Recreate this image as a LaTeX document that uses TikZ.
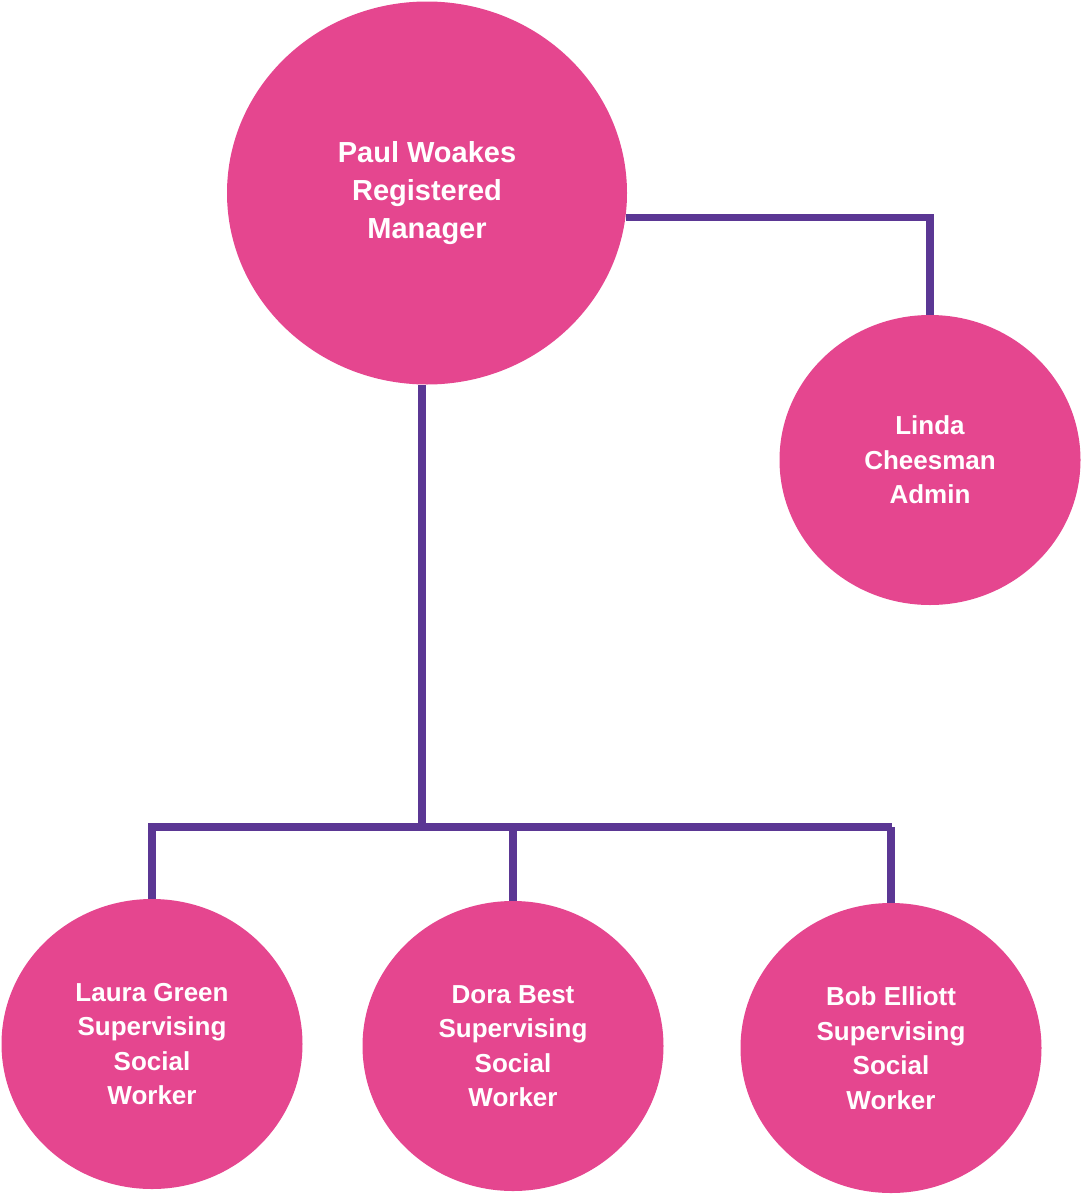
\documentclass[tikz,border=0pt]{standalone}
\usepackage{fontspec}
\setmainfont{Liberation Sans}
\usetikzlibrary{shapes.geometric}
\definecolor{staffpink}{HTML}{E5468F}
\definecolor{linkpurple}{HTML}{5B3794}

\begin{document}
\begin{tikzpicture}[x=1pt,y=-1pt,
      person/.style={ellipse,fill=staffpink,text=white,inner sep=0pt,
         align=center,font=\bfseries\fontsize{26}{34.5}\selectfont,
         minimum width=301pt,minimum height=290pt},
      link/.style={linkpurple,line width=7.5pt}]
            \useasboundingbox (0,0) rectangle (1080,1194);

            \node [person,minimum width=400pt,minimum height=383pt,
               font=\bfseries\fontsize{29}{38}\selectfont]
               (paul) at (427,193) {Paul Woakes\\Registered\\Manager};
            \node [person] (linda) at (930,460) {Linda\\Cheesman\\Admin};
            \node [person] (laura) at (152,1044) {Laura Green\\Supervising\\Social\\Worker};
            \node [person] (dora) at (513,1046) {Dora Best\\Supervising\\Social\\Worker};
            \node [person] (bob) at (891,1048) {Bob Elliott\\Supervising\\Social\\Worker};

            \coordinate (bus) at (422,827);
            \coordinate (busleft) at (148,827);
            \coordinate (busright) at (892,827);

            \draw [link] (paul.-7) -| (linda.north);
            \draw [link] (bus |- paul.south) -- (bus);
            \draw [link] (busleft) -- (busright);
            \draw [link] (laura.north) -- (laura.north |- bus);
            \draw [link] (dora.north) -- (dora.north |- bus);
            \draw [link] (bob.north) -- (bob.north |- bus);
         \end{tikzpicture}
\end{document}
